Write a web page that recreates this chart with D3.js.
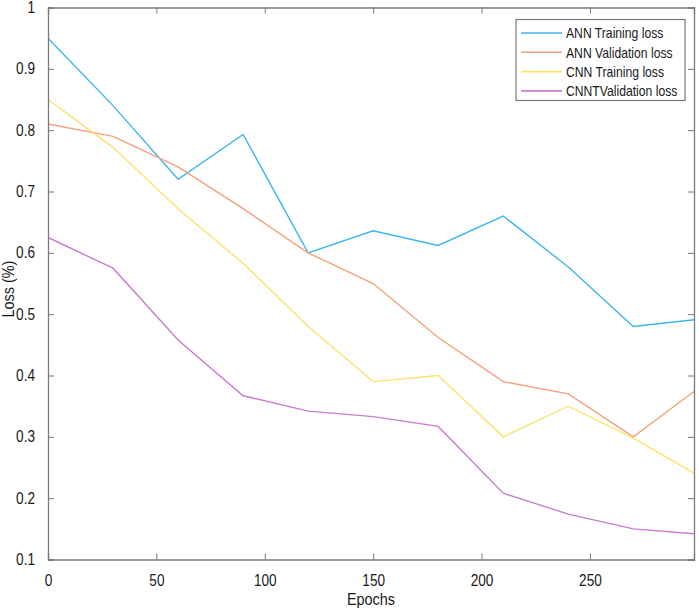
<!DOCTYPE html>
<html>
<head>
<meta charset="utf-8">
<script src="https://cdn.jsdelivr.net/npm/d3@7"></script>
<style>
  html, body { margin: 0; padding: 0; background: #fff; }
  svg { display: block; }
  text { font-family: "Liberation Sans", Arial, sans-serif; fill: #1a1a1a; }
</style>
</head>
<body>
<svg id="chart" width="699" height="611"></svg>
<script>
const epochs = [0, 30, 60, 90, 120, 150, 180, 210, 240, 270, 298];
const annTraining   = [0.95, 0.84, 0.72, 0.793, 0.60, 0.636, 0.612, 0.66, 0.577, 0.48, 0.491];
const annValidation = [0.81, 0.79, 0.74, 0.672, 0.60, 0.55, 0.462, 0.39, 0.37, 0.30, 0.374];
const cnnTraining   = [0.85, 0.772, 0.672, 0.583, 0.48, 0.39, 0.40, 0.30, 0.35, 0.298, 0.241];
const cnnValidation = [0.625, 0.575, 0.458, 0.367, 0.342, 0.333, 0.317, 0.208, 0.174, 0.15, 0.142];
const seriesNames = ["ANN Training loss", "ANN Validation loss", "CNN Training loss", "CNNTValidation loss"];
const seriesColors = ["#3db6ec", "#f5a07f", "#fde26c", "#c97dd0"];
const xTicks = [0, 50, 100, 150, 200, 250];
const yTicks = [0.1, 0.2, 0.3, 0.4, 0.5, 0.6, 0.7, 0.8, 0.9, 1];

const seriesValues = [annTraining, annValidation, cnnTraining, cnnValidation];

const svg = d3.select("#chart");
const L = 48, R = 694, T = 7.5, B = 559.5;
const x = d3.scaleLinear().domain([0, 298]).range([L, R]);
const y = d3.scaleLinear().domain([0.1, 1]).range([B, T]);
const axisColor = "#7a7a7a";
const tickLen = 6;

function squeeze(sel, f) {
  sel.each(function () {
    const t = d3.select(this);
    const xx = +t.attr("x") || 0;
    t.attr("transform", `translate(${xx},0) scale(${f},1) translate(${-xx},0)`);
  });
}

// lines
const line = d3.line().x((d, i) => x(epochs[i])).y(d => y(d));
seriesValues.forEach((vals, k) => {
  svg.append("path")
    .attr("d", line(vals))
    .attr("fill", "none")
    .attr("stroke", seriesColors[k])
    .attr("stroke-width", 1.4)
    .attr("stroke-linejoin", "miter");
});

// axes
const fmtY = d => (d === 1 ? "1" : d3.format(".1f")(d));
const gB = svg.append("g").attr("transform", `translate(0,${B})`)
  .call(d3.axisBottom(x).tickValues(xTicks).tickSize(-tickLen).tickPadding(15).tickFormat(d3.format("d")));
const gT = svg.append("g").attr("transform", `translate(0,${T})`)
  .call(d3.axisTop(x).tickValues(xTicks).tickSize(-tickLen).tickFormat(""));
const gL = svg.append("g").attr("transform", `translate(${L},0)`)
  .call(d3.axisLeft(y).tickValues(yTicks).tickSize(-tickLen).tickPadding(13).tickFormat(fmtY));
const gR = svg.append("g").attr("transform", `translate(${R},0)`)
  .call(d3.axisRight(y).tickValues(yTicks).tickSize(-tickLen).tickFormat(""));

[gB, gT, gL, gR].forEach(g => {
  g.select(".domain").attr("stroke", axisColor).attr("stroke-width", 1.3);
  g.selectAll(".tick line").attr("stroke", axisColor).attr("stroke-width", 1);
  g.selectAll(".tick text").attr("font-size", 16).attr("fill", "#1a1a1a")
    .style("font-family", '"Liberation Sans", Arial, sans-serif');
  squeeze(g.selectAll(".tick text"), 0.85);
});

// axis labels
const xl = svg.append("text").attr("x", (L + R) / 2).attr("y", 605)
  .attr("text-anchor", "middle").attr("font-size", 16).text("Epochs");
squeeze(xl, 0.9);
svg.append("text").attr("transform", `translate(14,289) rotate(-90) scale(0.9,1)`)
  .attr("text-anchor", "middle").attr("font-size", 16).text("Loss (%)");

// legend
const legX = 516, legY = 19.5, legW = 169, legH = 81;
const lg = svg.append("g");
lg.append("rect").attr("x", legX).attr("y", legY).attr("width", legW).attr("height", legH)
  .attr("fill", "#fff").attr("stroke", axisColor).attr("stroke-width", 1.2);
seriesNames.forEach((name, k) => {
  const cy = legY + 13.5 + k * 19.3;
  lg.append("line").attr("x1", legX + 5).attr("x2", legX + 46).attr("y1", cy).attr("y2", cy)
    .attr("stroke", seriesColors[k]).attr("stroke-width", 1.6);
  const t = lg.append("text").attr("x", legX + 50).attr("y", cy + 5.5).attr("font-size", 14.5).text(name);
  squeeze(t, 0.84);
});
</script>
</body>
</html>
